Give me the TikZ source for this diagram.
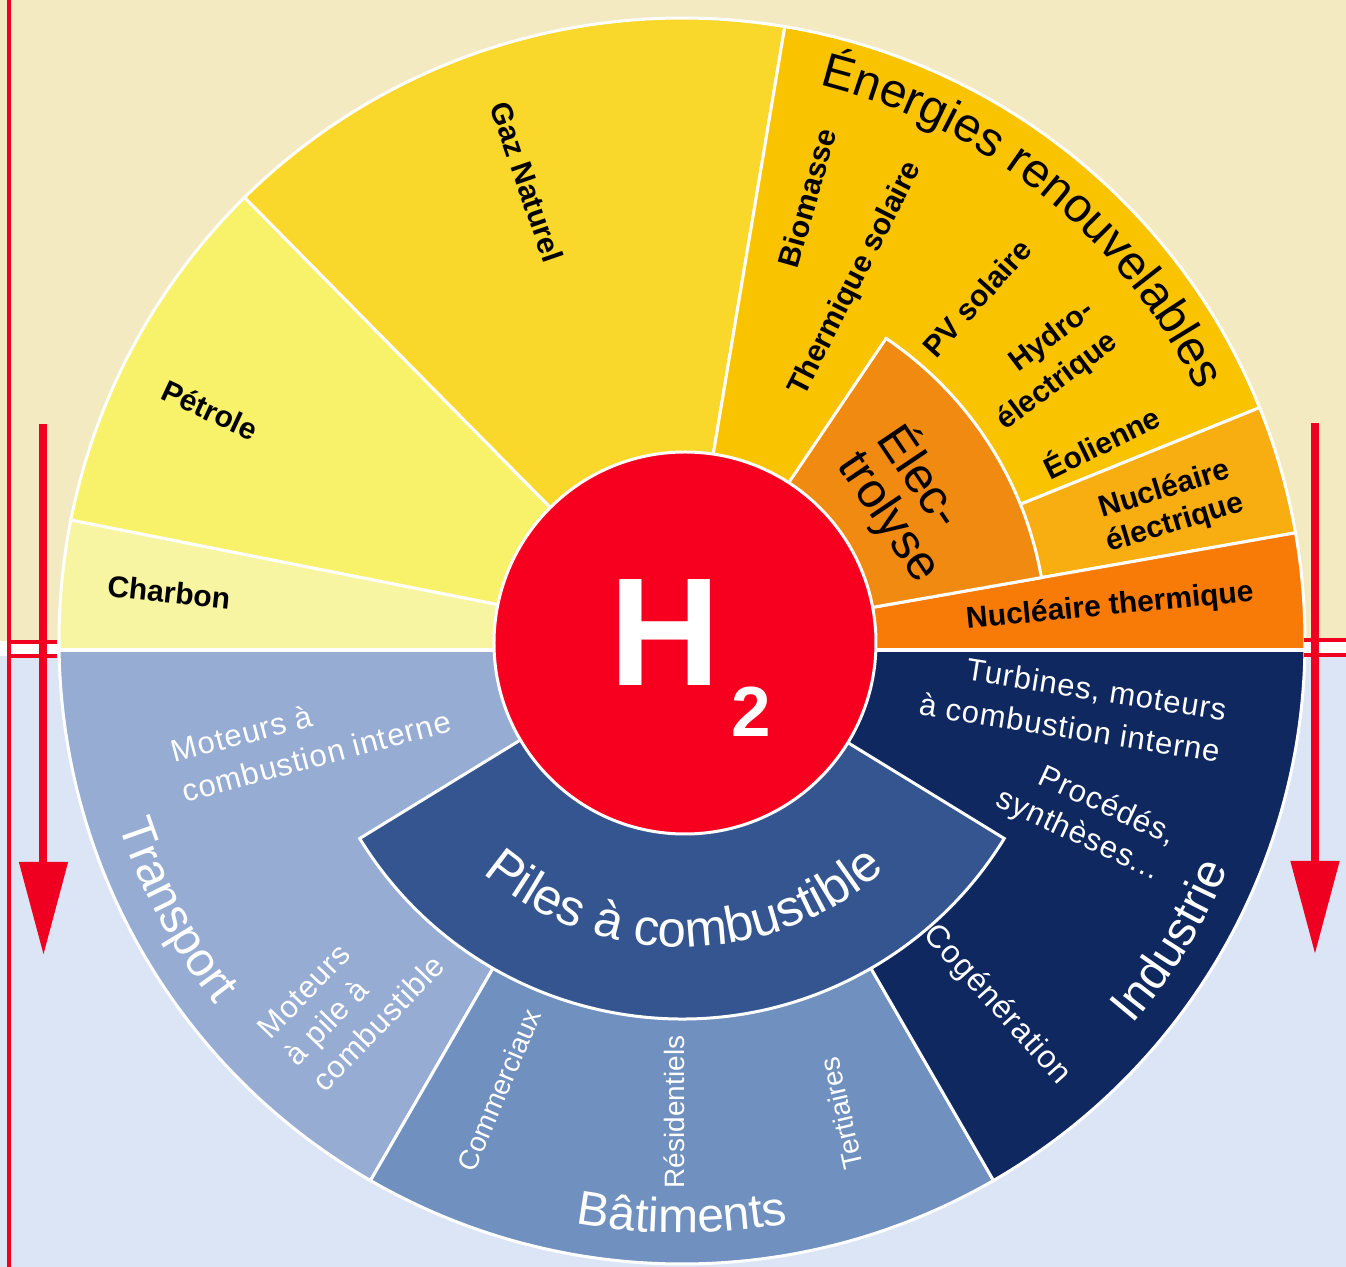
\documentclass[tikz,border=0pt]{standalone}
\usepackage{fontspec}
\setmainfont{Liberation Sans}
\newfontfamily\trackfont[LetterSpace=3]{Liberation Sans}
\usetikzlibrary{arrows.meta,decorations.text}
\definecolor{bgtop}{HTML}{F3EAC1}
\definecolor{bgbot}{HTML}{DCE5F6}
\definecolor{charbon}{HTML}{F8F5A2}
\definecolor{petrole}{HTML}{F8F16A}
\definecolor{gaz}{HTML}{F9D82B}
\definecolor{renouv}{HTML}{F9C300}
\definecolor{nucelec}{HTML}{F8AE10}
\definecolor{electro}{HTML}{F08A10}
\definecolor{nuctherm}{HTML}{F97B07}
\definecolor{h2red}{HTML}{F70020}
\definecolor{transport}{HTML}{96ACD3}
\definecolor{batiments}{HTML}{7090BF}
\definecolor{piles}{HTML}{34558F}
\definecolor{industrie}{HTML}{0F2860}
\definecolor{arrowred}{HTML}{F00020}
\newcommand\wedgefill[4]{\filldraw[sect,fill=#1] (0,0) -- (#2:#4) arc[start angle=#2,end angle=#3,radius=#4] -- cycle;}
\newcommand\bigtxt{\fontsize{24}{28}\selectfont}
\newcommand\pilestxt{\fontsize{25.5}{28}\selectfont}
\begin{document}
\begin{tikzpicture}[x=0.5pt,y=0.5pt,
  sect/.style={draw=white,line width=1.5pt},
  lab/.style={font=\bfseries\fontsize{15}{18}\selectfont, text=black, inner sep=0pt},
  wlab/.style={font=\trackfont\fontsize{15.5}{20}\selectfont, text=white, inner sep=0pt},
  blab/.style={font=\fontsize{14}{16}\selectfont, text=white, inner sep=0pt},
  redarrow/.style={draw=arrowred, line width=4pt, -{Triangle[width=23.5pt,length=46.5pt]}},
  redline/.style={draw=arrowred, line width=2pt}]
\useasboundingbox (-682,-626) rectangle (664,641);
% background
\fill[bgtop] (-682,0) rectangle (664,641);
\fill[white] (-682,-15) rectangle (664,0);
\fill[bgbot] (-682,-626) rectangle (664,-15);
% upper half
\begin{scope}
\clip (-700,-6.5) rectangle (700,700);
\wedgefill{charbon}{168.8}{185}{623}
\wedgefill{petrole}{134.6}{168.8}{623}
\wedgefill{gaz}{80.5}{134.6}{623}
\wedgefill{renouv}{22}{80.5}{623}
\wedgefill{nucelec}{10}{22}{623}
\wedgefill{nuctherm}{-5}{10}{623}
\wedgefill{electro}{10}{56}{365}
\end{scope}
% lower half
\begin{scope}
\clip (-700,-12) rectangle (700,-700);
\wedgefill{transport}{175}{240}{623}
\wedgefill{batiments}{240}{300}{623}
\wedgefill{industrie}{300}{365}{623}
\wedgefill{piles}{211.5}{328.5}{378}
\end{scope}
% H2
\filldraw[fill=h2red, draw=white, line width=1.5pt] (3,-2) circle[radius=191];
\node[text=white, inner sep=0pt, font=\bfseries\fontsize{77}{77}\selectfont] (hH) at (-16.5,8) {H};
\node[text=white, inner sep=0pt, font=\bfseries\fontsize{35.5}{36}\selectfont] (h2) at (69.5,-71) {2};
% curved titles
\path[decorate,decoration={text along path, text color=black, text align=center,
  text={|\bigtxt|Énergies renouvelables}}] (81:573) arc[start angle=81,end angle=21,radius=573];
\path[decorate,decoration={text along path, text color=white, text align=center,
  text={|\pilestxt|Piles à combustible}}] (220.5:306) arc[start angle=220.5,end angle=320.5,radius=306];
\path[decorate,decoration={text along path, text color=white, text align=center,
  text={|\bigtxt|Transport}}] (178:592) arc[start angle=178,end angle=238,radius=592];
\path[decorate,decoration={text along path, text color=white, text align=center,
  text={|\bigtxt|Bâtiments}}] (240:592) arc[start angle=240,end angle=300,radius=592];
\path[decorate,decoration={text along path, text color=white, text align=center,
  text={|\bigtxt|Industrie}}] (298.5:592) arc[start angle=298.5,end angle=358.5,radius=592];
% upper labels
\node[lab, rotate=-6] (charbonlab) at (-513,49) {Charbon};
\node[lab, rotate=-25] (petrolelab) at (-472,231) {Pétrole};
\node[lab, rotate=-71] (gazlab) at (-155,459) {Gaz Naturel};
\node[lab, rotate=74] (biolab) at (125,443) {Biomasse};
\node[lab, rotate=63] (thermlab) at (174,362) {Thermique solaire};
\node[lab, rotate=48] (pvlab) at (295,343) {PV solaire};
\node[lab, rotate=37, align=right, font=\bfseries\fontsize{15}{19.5}\selectfont] (hydrolab) at (364,275) {Hydro-\\électrique};
\node[lab, rotate=26] (eollab) at (419,200) {Éolienne};
\node[lab, rotate=17, align=center, font=\bfseries\fontsize{15}{17.5}\selectfont] (nuclab) at (488,134) {Nucléaire\\électrique};
\node[lab, rotate=5.5] (nucthlab) at (428,34) {Nucléaire thermique};
\node[rotate=-56, align=left, inner sep=0pt, font=\fontsize{24.5}{23.5}\selectfont] (electrolab) at (228,138) {Élec-\\trolyse};
% lower labels
\node[wlab, rotate=15, align=left, font=\trackfont\fontsize{15.5}{20.5}\selectfont] (motci) at (-371,-95) {Moteurs à\\combustion interne};
\node[wlab, rotate=46, align=left, font=\trackfont\fontsize{15.5}{19}\selectfont] (motpac) at (-331,-356) {Moteurs\\à pile à\\combustible};
\node[wlab, rotate=-9, align=right, font=\trackfont\fontsize{15.5}{21}\selectfont] (turb) at (391,-66) {Turbines, moteurs\\à combustion interne};
\node[wlab, rotate=-25, align=right, font=\trackfont\fontsize{15.5}{19}\selectfont] (proc) at (404,-177) {Procédés,\\synthèses...};
\node[wlab, rotate=-48, font=\trackfont\fontsize{16}{18}\selectfont] (cogen) at (315,-364) {Cogénération};
\node[blab, rotate=67] (comm) at (-183,-449) {Commerciaux};
\node[blab, rotate=90] (resid) at (-8,-471) {Résidentiels};
\node[blab, rotate=103] (tert) at (159,-472) {Tertiaires};
% red marks
\coordinate (lb1) at (-673,641); \coordinate (lb2) at (-673,-626);
\draw[redline] (lb1) -- (lb2);
\coordinate (lh1a) at (-673,-1); \coordinate (lh1b) at (-625,-1);
\coordinate (lh2a) at (-673,-15); \coordinate (lh2b) at (-625,-15);
\draw[redline] (lh1a) -- (lh1b);
\draw[redline] (lh2a) -- (lh2b);
\coordinate (rh1a) at (622,1); \coordinate (rh1b) at (664,1);
\coordinate (rh2a) at (622,-14); \coordinate (rh2b) at (664,-14);
\draw[redline] (rh1a) -- (rh1b);
\draw[redline] (rh2a) -- (rh2b);
\coordinate (la1) at (-638.5,217); \coordinate (la2) at (-638.5,-314);
\coordinate (ra1) at (633,218); \coordinate (ra2) at (633,-313);
\draw[redarrow] (la1) -- (la2);
\draw[redarrow] (ra1) -- (ra2);
\end{tikzpicture}
\end{document}
